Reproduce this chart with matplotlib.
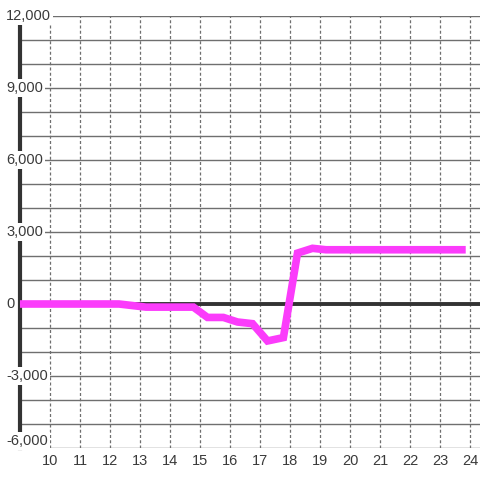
import numpy as np
import matplotlib
matplotlib.use("Agg")
import matplotlib.pyplot as plt

# =========================
# Data
# =========================
x_vals = [9.0, 12.3, 13.2, 14.78, 15.25, 15.78, 16.25, 16.75, 17.25, 17.78,
          18.25, 18.75, 19.2, 23.73]
y_vals = [0, 0, -130, -130, -560, -560, -750, -820, -1540, -1400,
          2120, 2320, 2260, 2260]

x_ticks = list(range(10, 25))
y_label_vals = [-6000, -3000, 0, 3000, 6000, 9000, 12000]
y_grid_vals = list(range(-6000, 12001, 1000))

TEXT_COLOR = "#3a3a3a"
LINE_COLOR = "#fb3cfb"

plt.rcParams["font.family"] = ["Liberation Sans", "DejaVu Sans"]

fig = plt.figure(figsize=(4.8, 4.8), dpi=100)
ax = fig.add_axes([20 / 480, 32 / 480, 460 / 480, 432 / 480])
ax.set_xlim(9.0, 9.0 + 460 / 30)
ax.set_ylim(-6000, 12000)

for s in ["top", "right", "bottom"]:
    ax.spines[s].set_visible(False)
ax.spines["left"].set_color("#333333")
ax.spines["left"].set_linewidth(3)
ax.spines["left"].set_zorder(1.5)

# grid
for yv in y_grid_vals:
    ax.axhline(yv, color="#6f6f6f", lw=1, zorder=1)
for xv in x_ticks:
    ax.axvline(xv, color="#6f6f6f", lw=0.9, ls=(0, (2.4, 1.8)), zorder=1)

ax.axhline(0, color="#333333", lw=2.8, zorder=2)

ax.plot(x_vals, y_vals, color=LINE_COLOR, lw=5.5, solid_capstyle="projecting",
        solid_joinstyle="miter", zorder=3)

# x ticks
ax.set_xticks(x_ticks)
ax.set_xticklabels([str(v) for v in x_ticks])
ax.tick_params(axis="x", length=0, pad=4.5, labelsize=10.5, labelcolor=TEXT_COLOR)
ax.set_yticks([])

# y labels drawn over the spine with a white box
trans = ax.get_yaxis_transform()
for yv in y_label_vals:
    va = "bottom" if yv == y_label_vals[0] else "center"
    ax.text(-14 / 460, yv, f"{yv:,}", transform=trans, ha="left", va=va,
            fontsize=10.5, color=TEXT_COLOR, clip_on=False, zorder=5,
            bbox=dict(boxstyle="square,pad=0.15", fc="white", ec="none"))

fig.savefig("out.png", dpi=100)
